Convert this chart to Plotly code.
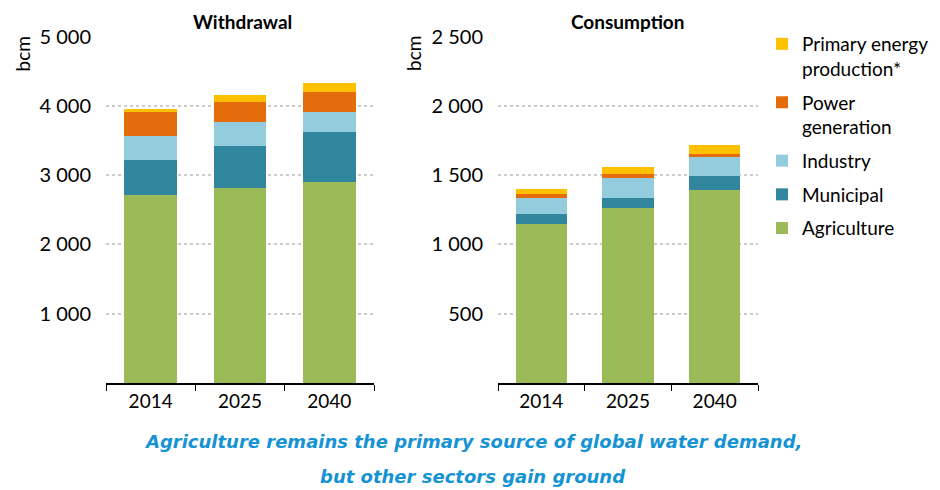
import plotly.graph_objects as go

# Data (bcm)
years = ["2014", "2025", "2040"]
sectors = ["Agriculture", "Municipal", "Industry", "Power<br>generation", "Primary energy<br>production*"]
colors = ["#9BBB59", "#31859C", "#93CDDD", "#E46C0A", "#FFC000"]

withdrawal = {
    "Agriculture": [2720, 2810, 2900],
    "Municipal": [495, 610, 725],
    "Industry": [345, 350, 290],
    "Power<br>generation": [350, 290, 290],
    "Primary energy<br>production*": [45, 100, 130],
}
consumption = {
    "Agriculture": [1150, 1265, 1395],
    "Municipal": [72, 72, 100],
    "Industry": [116, 145, 144],
    "Power<br>generation": [29, 29, 14],
    "Primary energy<br>production*": [34, 50, 65],
}
withdrawal_ticks = [1000, 2000, 3000, 4000, 5000]
consumption_ticks = [500, 1000, 1500, 2000, 2500]

# the page body adds an 8px margin, so the figure is drawn 8px smaller
# and positions below are given in window pixels
OFF = 8
W, H = 940 - OFF, 490 - OFF
FONT = "Lato"

def px(x):
    return (x - OFF) / W

def py(y):
    return 1 - (y - OFF) / H

fig = go.Figure()

for i, (name, col) in enumerate(zip(sectors, colors)):
    rank = len(sectors) - i
    fig.add_trace(go.Bar(
        x=years, y=withdrawal[name], name=name, marker_color=col,
        marker_line_width=0, legendgroup=name, legendrank=rank, showlegend=True,
        xaxis="x", yaxis="y",
    ))
    fig.add_trace(go.Bar(
        x=years, y=consumption[name], name=name, marker_color=col,
        marker_line_width=0, legendgroup=name, legendrank=rank, showlegend=False,
        xaxis="x2", yaxis="y2",
    ))

ydom = [py(383), py(36.7)]
xaxis_common = dict(
    showline=True, linecolor="black", linewidth=1.5,
    ticks="outside", tickson="boundaries", ticklen=6, tickcolor="black",
    tickfont=dict(size=19, color="black", family=FONT),
    showgrid=False, fixedrange=True, automargin=False,
)
yaxis_common = dict(
    showgrid=True, gridcolor="#cccccc", griddash="dot", gridwidth=2,
    zeroline=False, showline=False, ticks="", tickformat=",d",
    tickfont=dict(size=20, color="black", family=FONT),
    ticklabelstandoff=14, automargin=False,
)

fig.update_layout(
    width=W, height=H,
    margin=dict(l=0, r=0, t=0, b=0),
    paper_bgcolor="white", plot_bgcolor="white",
    barmode="stack", bargap=0.41,
    separators=". ",
    font=dict(family=FONT, color="black"),
    xaxis=dict(domain=[px(106), px(374)], anchor="y", **xaxis_common),
    yaxis=dict(domain=ydom, anchor="x", range=[0, 5000], tickvals=withdrawal_ticks, **yaxis_common),
    xaxis2=dict(domain=[px(498), px(758)], anchor="y2", **xaxis_common),
    yaxis2=dict(domain=ydom, anchor="x2", range=[0, 2500], tickvals=consumption_ticks, **yaxis_common),
    legend=dict(
        x=px(762), y=py(25), xanchor="left", yanchor="top",
        traceorder="grouped", tracegroupgap=6, valign="top",
        font=dict(size=19, family=FONT, color="black"),
        bgcolor="rgba(0,0,0,0)", itemwidth=30,
    ),
    showlegend=True,
)

# panel titles and unit labels sit at the top/left edge of the figure
annotations = [
    dict(x=px(242), y=1, yanchor="top", text="<b>Withdrawal</b>", font=dict(size=19)),
    dict(x=px(628), y=1, yanchor="top", text="<b>Consumption</b>", font=dict(size=19)),
    dict(x=0, xanchor="left", y=py(54), text="bcm", textangle=-90, font=dict(size=19)),
    dict(x=px(413), y=py(54), text="bcm", textangle=-90, font=dict(size=19)),
    dict(x=px(473), y=py(441),
         text="<b><i>Agriculture remains the primary source of global water demand,</i></b>",
         font=dict(size=18, color="#1593D3", family="DejaVu Sans")),
    dict(x=px(473), y=py(476),
         text="<b><i>but other sectors gain ground</i></b>",
         font=dict(size=18, color="#1593D3", family="DejaVu Sans")),
]
for a in annotations:
    a.setdefault("xref", "paper")
    a.setdefault("yref", "paper")
    a["showarrow"] = False
    a.setdefault("xanchor", "center")
    a.setdefault("yanchor", "middle")
    a["font"].setdefault("family", FONT)
    a["font"].setdefault("color", "black")
    fig.add_annotation(**a)

fig.write_html("out.html")
